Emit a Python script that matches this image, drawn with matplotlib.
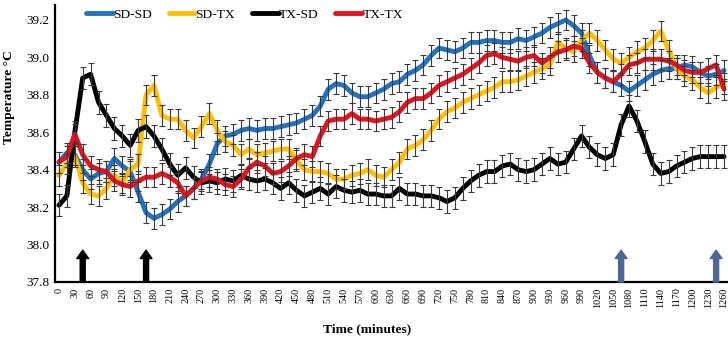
import matplotlib
matplotlib.use("Agg")
import matplotlib.pyplot as plt
import numpy as np

plt.rcParams['font.family'] = ['Liberation Serif', 'DejaVu Serif']

# sampling every 15 min, labels every 30 min
times = list(range(0, 1261, 15))

sd_sd = [38.44, 38.49, 38.48, 38.40, 38.35, 38.38, 38.39, 38.46, 38.42, 38.39,
         38.28, 38.17, 38.14, 38.16, 38.19, 38.23, 38.26, 38.30, 38.35, 38.43,
         38.54, 38.58, 38.59, 38.61, 38.62, 38.61, 38.62, 38.62, 38.63, 38.64,
         38.65, 38.67, 38.69, 38.74, 38.83, 38.86, 38.85, 38.81, 38.79, 38.79,
         38.81, 38.83, 38.86, 38.87, 38.91, 38.93, 38.96, 39.01, 39.05, 39.04,
         39.03, 39.05, 39.08, 39.08, 39.09, 39.09, 39.08, 39.08, 39.10, 39.09,
         39.11, 39.13, 39.16, 39.18, 39.20, 39.17, 39.13, 39.01, 38.92, 38.89,
         38.87, 38.85, 38.82, 38.85, 38.88, 38.91, 38.93, 38.94, 38.94, 38.96,
         38.95, 38.92, 38.90, 38.91, 38.93]

sd_tx = [38.37, 38.43, 38.47, 38.33, 38.27, 38.26, 38.30, 38.37, 38.33, 38.40,
         38.43, 38.80, 38.85, 38.69, 38.67, 38.67, 38.61, 38.57, 38.63, 38.70,
         38.61, 38.55, 38.53, 38.48, 38.51, 38.48, 38.49, 38.50, 38.51, 38.51,
         38.45, 38.40, 38.39, 38.39, 38.38, 38.35, 38.35, 38.37, 38.38, 38.40,
         38.37, 38.36, 38.40, 38.44, 38.51, 38.53, 38.56, 38.61, 38.67, 38.71,
         38.73, 38.76, 38.78, 38.80, 38.82, 38.84, 38.87, 38.87, 38.88, 38.90,
         38.92, 38.94, 38.96, 39.08, 39.05, 39.03, 39.09, 39.13, 39.09, 39.04,
         38.99, 38.97, 39.00, 39.03, 39.05, 39.09, 39.14, 39.04, 38.94, 38.90,
         38.88, 38.84, 38.81, 38.84, 38.86]

tx_sd = [38.21, 38.26, 38.60, 38.89, 38.91, 38.76, 38.69, 38.62, 38.58, 38.53,
         38.61, 38.63, 38.58, 38.51, 38.43, 38.37, 38.41, 38.36, 38.33, 38.34,
         38.33, 38.35, 38.34, 38.37, 38.35, 38.34, 38.35, 38.33, 38.30, 38.33,
         38.29, 38.26, 38.28, 38.30, 38.27, 38.31, 38.29, 38.28, 38.29, 38.27,
         38.27, 38.26, 38.26, 38.30, 38.27, 38.27, 38.26, 38.26, 38.25, 38.23,
         38.25, 38.30, 38.34, 38.37, 38.39, 38.39, 38.42, 38.43, 38.40, 38.39,
         38.40, 38.43, 38.46, 38.43, 38.44, 38.51, 38.58, 38.52, 38.48, 38.46,
         38.48, 38.64, 38.74, 38.66, 38.55, 38.43, 38.38, 38.39, 38.42, 38.44,
         38.46, 38.47, 38.47, 38.47, 38.47]

tx_tx = [38.44, 38.47, 38.59, 38.48, 38.42, 38.40, 38.39, 38.34, 38.32, 38.31,
         38.34, 38.36, 38.36, 38.38, 38.36, 38.33, 38.26, 38.30, 38.34, 38.36,
         38.35, 38.32, 38.31, 38.35, 38.41, 38.44, 38.42, 38.38, 38.39, 38.42,
         38.46, 38.48, 38.47, 38.58, 38.66, 38.67, 38.67, 38.70, 38.67, 38.67,
         38.66, 38.67, 38.68, 38.71, 38.76, 38.78, 38.78, 38.81, 38.85, 38.87,
         38.89, 38.91, 38.94, 38.97, 39.01, 39.02, 39.00, 38.99, 38.98, 39.00,
         39.01, 38.97, 39.00, 39.03, 39.04, 39.06, 39.05, 38.97, 38.92, 38.89,
         38.87, 38.91, 38.96, 38.97, 38.99, 38.99, 38.99, 38.98, 38.96, 38.93,
         38.92, 38.92, 38.94, 38.96, 38.83]

errs = [0.055, 0.055, 0.06, 0.055]
names = ['SD-SD', 'SD-TX', 'TX-SD', 'TX-TX']
colors = ['#2372C0', '#FFC000', '#000000', '#E8111E']

# treatment arrows (minutes)
black_arrows = [45, 165]
blue_arrows = [1065, 1245]

fig = plt.figure(figsize=(7.28, 3.38), dpi=100)
ax = fig.add_axes([55 / 728, 56 / 338, 673 / 728, 277 / 338])

x = np.arange(len(times))
for vals, err, name, c in zip([sd_sd, sd_tx, tx_sd, tx_tx], errs, names, colors):
    ax.plot(x, vals, color=c, lw=3.5, label=name, solid_joinstyle='round',
            solid_capstyle='round', zorder=2)
    ax.errorbar(x, vals, yerr=err, fmt='none', ecolor='#3a3a3a',
                elinewidth=0.8, capsize=2, capthick=0.8, zorder=3)

def arrow(t, col):
    i = times.index(t)
    ax.annotate('', xy=(i, 37.97), xytext=(i, 37.8),
                arrowprops=dict(arrowstyle='simple,head_length=0.6,head_width=0.85,tail_width=0.36',
                                color=col, shrinkA=0, shrinkB=0), zorder=4)

for t in black_arrows:
    arrow(t, '#000000')
for t in blue_arrows:
    arrow(t, '#4B6896')

ax.set_xlim(-0.5, len(times) - 0.5)
ax.set_ylim(37.8, 39.28)
ax.set_yticks(np.arange(37.8, 39.21, 0.2))
ax.set_yticklabels(['%.1f' % v for v in np.arange(37.8, 39.21, 0.2)], fontsize=9.5)
ax.set_xticks(x[::2])
ax.set_xticklabels([str(t) for t in times[::2]], rotation=90, fontsize=7.3)
ax.tick_params(length=0, pad=4)

for s in ['top', 'right']:
    ax.spines[s].set_visible(False)
for s in ['left', 'bottom']:
    ax.spines[s].set_linewidth(1.6)

ax.set_ylabel('Temperature °C', fontsize=9.7, fontweight='bold')
ax.yaxis.set_label_coords(-0.059, 0.668)
ax.set_xlabel('Time (minutes)', fontsize=9.7, fontweight='bold')
ax.xaxis.set_label_coords(0.464, -0.15)

fig.legend(loc='center left', bbox_to_anchor=(86 / 728, 1 - 15 / 338), ncol=4,
           frameon=False, fontsize=9.7, handlelength=2.0, handletextpad=0.0,
           columnspacing=1.25, borderpad=0, borderaxespad=0)

fig.savefig('out.png', dpi=100)
